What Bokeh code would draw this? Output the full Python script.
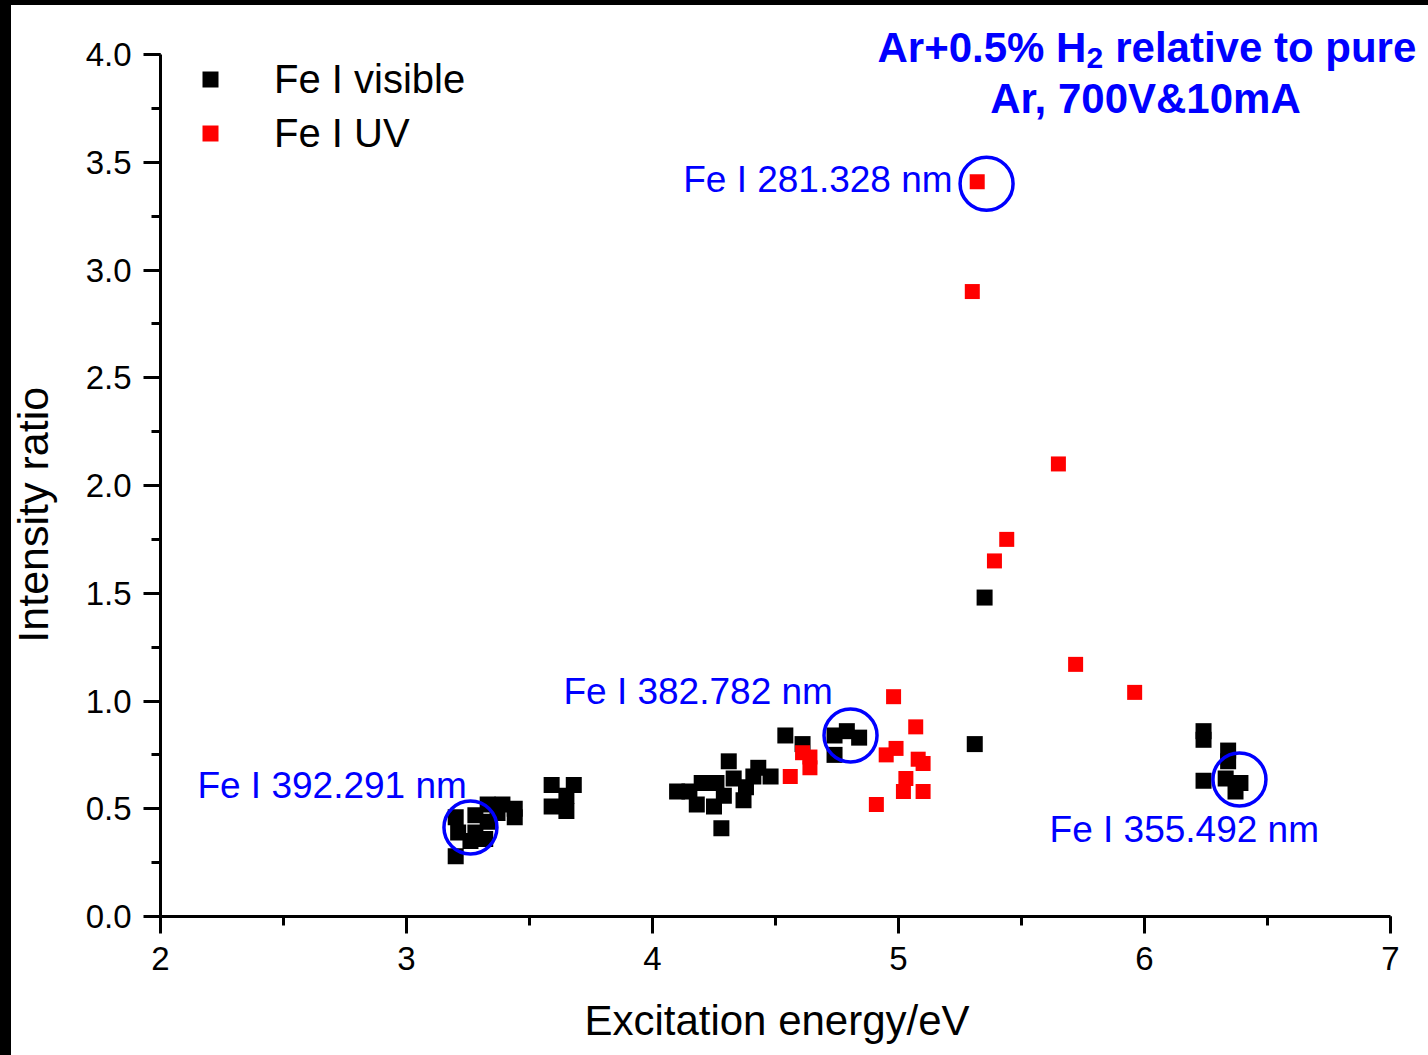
from bokeh.plotting import figure
from bokeh.models import (Range1d, SingleIntervalTicker, NumeralTickFormatter, Legend,
                          LegendItem, Label, ColumnDataSource)
from bokeh.embed import file_html
from bokeh.resources import INLINE

# ---------------- data ----------------
vis_energy = [3.20, 3.28, 3.33, 3.21, 3.28, 3.32, 3.26, 3.33, 3.39, 3.44, 3.44, 3.37, 3.20,
              3.59, 3.68, 3.59, 3.65, 3.65,
              4.10, 4.15, 4.20, 4.18, 4.25, 4.26, 4.29, 4.28, 4.33, 4.37, 4.31, 4.38, 4.43, 4.48, 4.41,
              4.54, 4.61, 4.74, 4.79, 4.84, 4.74,
              5.35, 5.31,
              6.24, 6.24, 6.34, 6.34, 6.24, 6.33, 6.39, 6.37]
vis_ratio = [0.46, 0.47, 0.44, 0.39, 0.39, 0.36, 0.35, 0.52, 0.52, 0.50, 0.46, 0.48, 0.28,
             0.61, 0.61, 0.51, 0.49, 0.56,
             0.58, 0.58, 0.62, 0.52, 0.51, 0.62, 0.56, 0.41, 0.64, 0.54, 0.72, 0.60, 0.69, 0.65, 0.65,
             0.84, 0.80, 0.84, 0.86, 0.83, 0.75,
             1.48, 0.80,
             0.86, 0.82, 0.77, 0.72, 0.63, 0.64, 0.62, 0.58]

uv_energy = [5.32, 5.30, 5.65, 5.44, 5.39, 5.72, 5.96, 4.98, 5.07, 4.61, 4.64, 4.64, 4.56,
             4.95, 4.99, 5.08, 5.10, 5.03, 5.02, 5.10, 4.91]
uv_ratio = [3.41, 2.90, 2.10, 1.75, 1.65, 1.17, 1.04, 1.02, 0.88, 0.76, 0.74, 0.69, 0.65,
            0.75, 0.78, 0.73, 0.71, 0.64, 0.58, 0.58, 0.52]

hl_energy = [5.358, 4.805, 3.260, 6.386]
hl_ratio = [3.40, 0.84, 0.413, 0.636]
hl_labels = ["Fe I 281.328 nm", "Fe I 382.782 nm", "Fe I 392.291 nm", "Fe I 355.492 nm"]

x_ticks_range = (2, 7)
y_ticks_range = (0, 4)

FONT = "Liberation Sans"
BLUE = "#0000FF"
NBSP = "\u00a0"

# frame extends to the top and right edges so that annotations are not clipped
p = figure(frame_width=1268, frame_height=911, output_backend="svg", toolbar_location=None,
           x_range=Range1d(2, 2 + 1268 / 246), y_range=Range1d(0, 911 / 215.5),
           min_border_left=160, min_border_top=5, min_border_right=0, min_border_bottom=139,
           background_fill_color="white", border_fill_color=None)
p.styles = {"background-image": "linear-gradient(to bottom, black 5px, transparent 5px), "
                                "linear-gradient(to right, black 11px, white 11px)"}
p.outline_line_color = None
p.grid.visible = False

p.xaxis.ticker = SingleIntervalTicker(interval=1, num_minor_ticks=2)
p.yaxis.ticker = SingleIntervalTicker(interval=0.5, num_minor_ticks=2)
p.yaxis.formatter = NumeralTickFormatter(format="0.0")
p.xaxis.bounds = x_ticks_range
p.yaxis.bounds = y_ticks_range
for ax in (p.xaxis, p.yaxis):
    ax.axis_line_width = 3
    ax.major_tick_line_width = 3
    ax.minor_tick_line_width = 3
    ax.major_tick_in = 0
    ax.major_tick_out = 17
    ax.minor_tick_in = 0
    ax.minor_tick_out = 9
    ax.major_label_text_font = FONT
    ax.major_label_text_font_size = "33px"
    ax.major_label_text_color = "black"
    ax.axis_label_text_font = FONT
    ax.axis_label_text_font_style = "normal"
    ax.axis_label_text_color = "black"
p.xaxis.major_label_standoff = 13
p.yaxis.major_label_standoff = 12
p.yaxis.axis_label = "Intensity ratio" + NBSP * 9
p.yaxis.axis_label_text_font_size = "43px"
p.yaxis.axis_label_standoff = 26
p.xaxis.axis_label = "Excitation energy/eV" + NBSP * 3
p.xaxis.axis_label_text_font_size = "42px"
p.xaxis.axis_label_standoff = 24

src_vis = ColumnDataSource(dict(x=vis_energy, y=vis_ratio))
src_uv = ColumnDataSource(dict(x=uv_energy, y=uv_ratio))
r_vis = p.scatter("x", "y", source=src_vis, marker="square", size=16,
                  fill_color="black", line_color=None)
r_uv = p.scatter("x", "y", source=src_uv, marker="square", size=15,
                 fill_color="#FF0000", line_color=None)

p.scatter(hl_energy, hl_ratio, marker="circle", size=53, fill_color=None,
          line_color=BLUE, line_width=3.5)

legend = Legend(items=[LegendItem(label="Fe I visible", renderers=[r_vis]),
                       LegendItem(label="Fe I UV", renderers=[r_uv])],
                location=(5, 759), margin=0, padding=0, spacing=6,
                glyph_width=90, glyph_height=40, label_height=48, label_standoff=19,
                label_text_font=FONT, label_text_font_size="40px", label_text_color="black",
                border_line_alpha=0, background_fill_alpha=0)
p.add_layout(legend)

# annotation labels
lab_pos = [(5.220, 3.420, "right"), (3.638, 1.042, "left"),
           (2.150, 0.610, "left"), (5.614, 0.406, "left")]
for (lx, ly, al), txt in zip(lab_pos, hl_labels):
    p.add_layout(Label(x=lx, y=ly, text=txt, text_align=al, text_baseline="alphabetic",
                       text_font=FONT, text_font_size="37px", text_color=BLUE))

# title: "Ar+0.5% H2 relative to pure" with subscript 2, then "Ar, 700V&10mA"
title_parts = [(4.9146, 4.033, "Ar+0.5% H", "42px"),
               (5.7642, 3.982, "2", "30px"),
               (5.8810, 4.033, "relative to pure", "42px")]
for tx, ty, tt, fs in title_parts:
    p.add_layout(Label(x=tx, y=ty, text=tt, text_align="left", text_baseline="alphabetic",
                       text_font=FONT, text_font_size=fs, text_font_style="bold",
                       text_color=BLUE))
p.add_layout(Label(x=6.004, y=3.796, text="Ar, 700V&10mA", text_align="center",
                   text_baseline="alphabetic", text_font=FONT, text_font_size="42px",
                   text_font_style="bold", text_color=BLUE))

open("out.html", "w").write(file_html(p, INLINE))
